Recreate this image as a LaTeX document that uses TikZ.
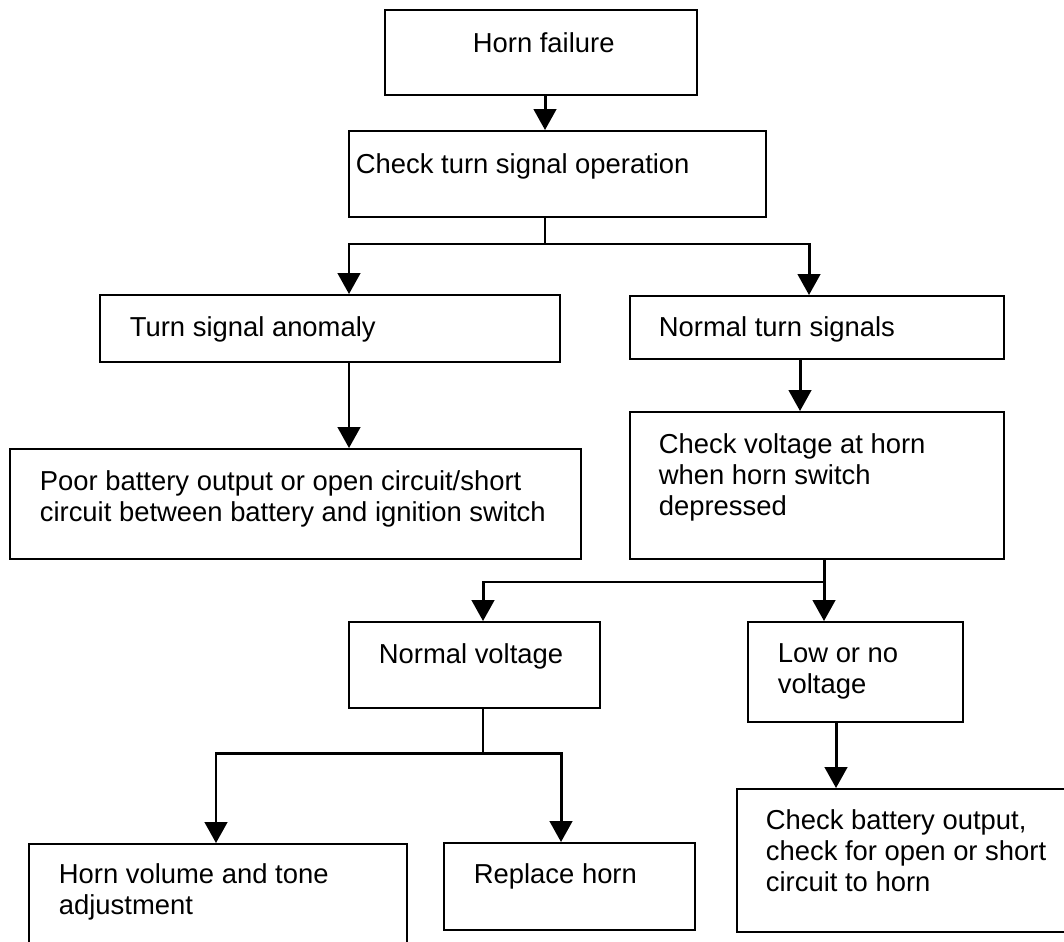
\documentclass[tikz,border=0pt]{standalone}
\usepackage{fontspec}
\setmainfont{Liberation Sans}
\usetikzlibrary{arrows.meta}

\begin{document}
\begin{tikzpicture}[x=0.02cm, y=-0.02cm, line width=1pt, >={Triangle[length=4.2mm,width=4.5mm]}]
   \useasboundingbox (0,0) rectangle (1064,942);
   \clip (0,0) rectangle (1064,942);
   \tikzstyle{box}=[draw, rectangle, inner sep=0pt, line width=1.1pt]
   \tikzstyle{txt}=[anchor=north west, align=left, inner sep=0pt, font=\fontsize{15.6}{17.6}\selectfont]
   \tikzstyle{arr}=[->, line width=1.7pt]
   % boxes
   \node[box, minimum width=6.24cm, minimum height=1.70cm] (failure) at (541,52.5) {};
   \node[box, minimum width=8.34cm, minimum height=1.72cm] (checkturn) at (557.5,174) {};
   \node[box, minimum width=9.20cm, minimum height=1.34cm] (anomaly) at (330,328.5) {};
   \node[box, minimum width=7.48cm, minimum height=1.26cm] (normal) at (817,327.5) {};
   \node[box, minimum width=11.42cm, minimum height=2.20cm] (poorbatt) at (295.5,504) {};
   \node[box, minimum width=7.48cm, minimum height=2.94cm] (checkvolt) at (817,485.5) {};
   \node[box, minimum width=5.02cm, minimum height=1.72cm] (normvolt) at (474.5,665) {};
   \node[box, minimum width=4.30cm, minimum height=2.00cm] (lowvolt) at (855.5,672) {};
   \node[box, minimum width=7.56cm, minimum height=2.52cm] (adjust) at (218,907) {};
   \node[box, minimum width=5.02cm, minimum height=1.74cm] (replace) at (569.5,886.5) {};
   \node[box, minimum width=7.06cm, minimum height=2.86cm] (checkbatt) at (913.5,860.5) {};
   % texts
   \node[txt] (failuretxt) at (472,32) {Horn failure};
   \node[txt] (checkturntxt) at (355,153) {Check turn signal operation};
   \node[txt] (anomalytxt) at (129,316) {Turn signal anomaly};
   \node[txt] (normaltxt) at (658,316) {Normal turn signals};
   \node[txt] (poorbatttxt) at (39,470) {Poor battery output or open circuit/short\\circuit between battery and ignition switch};
   \node[txt] (checkvolttxt) at (658,433) {Check voltage at horn\\when horn switch\\depressed};
   \node[txt] (normvolttxt) at (378,643) {Normal voltage};
   \node[txt] (lowvolttxt) at (777,643) {Low or no\\voltage};
   \node[txt] (adjusttxt) at (58,863) {Horn volume and tone\\adjustment};
   \node[txt] (replacetxt) at (473,863) {Replace horn};
   \node[txt] (checkbatttxt) at (765,809) {Check battery output,\\check for open or short\\circuit to horn};
   % junctions
   \coordinate (split1) at (545,244);
   \coordinate (split1l) at (349,270);
   \coordinate (split1r) at (809,270);
   \coordinate (tap1) at (800,385);
   \coordinate (split2) at (824,582);
   \coordinate (split2l) at (483,600);
   \coordinate (split3) at (483,753);
   \coordinate (split3l) at (216,800);
   \coordinate (split3r) at (561,800);
   \coordinate (tap2) at (836,755);
   % connectors
   \draw[arr] (failure.south -| split1) -- (split1 |- checkturn.north);
   \draw (checkturn.south -| split1) -- (split1);
   \draw[arr] (split1) -| (split1l |- anomaly.north);
   \draw[arr] (split1) -| (split1r |- normal.north);
   \draw[arr] (anomaly.south -| split1l) -- (split1l |- poorbatt.north);
   \draw[arr] (normal.south -| tap1) -- (tap1 |- checkvolt.north);
   \draw[arr] (checkvolt.south -| split2) -- (split2 |- lowvolt.north);
   \draw[arr] (split2) -| (split2l |- normvolt.north);
   \draw (normvolt.south -| split3) -- (split3);
   \draw[arr] (split3) -| (split3l |- adjust.north);
   \draw[arr] (split3) -| (split3r |- replace.north);
   \draw[arr] (lowvolt.south -| tap2) -- (tap2 |- checkbatt.north);
\end{tikzpicture}
\end{document}
